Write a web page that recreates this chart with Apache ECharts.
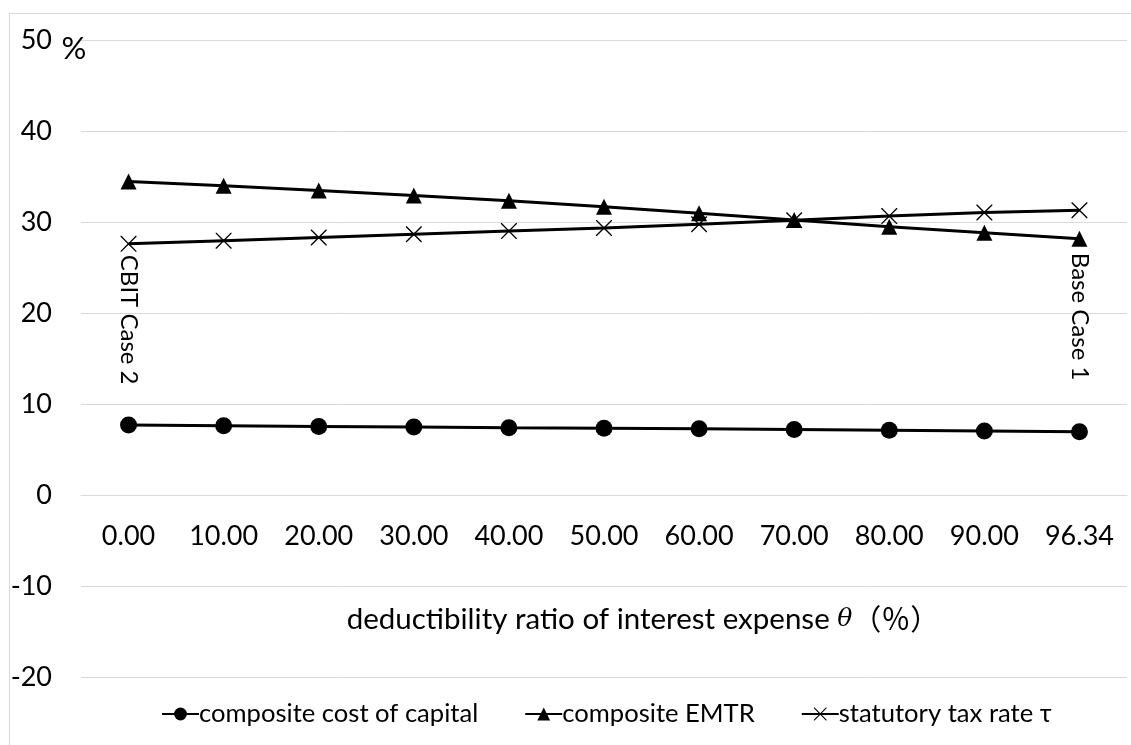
<!DOCTYPE html>
<html>
<head>
<meta charset="utf-8">
<script src="https://cdn.jsdelivr.net/npm/echarts@6/dist/echarts.min.js"></script>
<style>
  html, body { margin: 0; padding: 0; background: #fff; }
  #frame {
    position: absolute; left: 9px; top: 13px; width: 1140px; height: 760px;
    border: 1px solid #d9d9d9; box-sizing: border-box;
  }
  #chart { position: absolute; left: 0; top: 0; width: 1131px; height: 745px; }
</style>
</head>
<body>
<div id="frame"></div>
<div id="chart"></div>
<script>
// deductibility ratio of interest expense (θ, %)
const categories = ['0.00', '10.00', '20.00', '30.00', '40.00', '50.00', '60.00', '70.00', '80.00', '90.00', '96.34'];

// composite cost of capital (%)
const costOfCapital = [7.68, 7.60, 7.53, 7.47, 7.40, 7.34, 7.27, 7.20, 7.12, 7.04, 6.96];
// composite EMTR (%)
const emtr = [34.45, 33.98, 33.45, 32.92, 32.34, 31.68, 30.96, 30.22, 29.48, 28.82, 28.15];
// statutory tax rate τ (%)
const taxRate = [27.6, 27.95, 28.3, 28.65, 29.0, 29.35, 29.75, 30.2, 30.65, 31.05, 31.3];

const yTicks = { min: -20, max: 50, interval: 10 };

const FONT = 'Lato, "Noto Sans", sans-serif';
const CJK = '"Noto Sans CJK JP", "Noto Sans CJK SC", sans-serif';

const GRID_TOP = 40;
const GRID_BOTTOM = 68;
const PLOT_H = 745 - GRID_TOP - GRID_BOTTOM;
// lift the category axis up to the y = 0 line
const zeroOffset = -PLOT_H * (0 - yTicks.min) / (yTicks.max - yTicks.min);

// thin X marker
const crossPath = 'path://M0,0 L1.2,0 L10,8.8 L18.8,0 L20,0 L20,1.2 L11.2,10 L20,18.8 L20,20 L18.8,20 L10,11.2 L1.2,20 L0,20 L0,18.8 L8.8,10 L0,1.2 Z';

const sideLabel = (text, distance) => ({
  show: true,
  position: 'bottom',
  distance: distance,
  rotate: -90,
  align: 'left',
  verticalAlign: 'middle',
  formatter: text,
  color: '#000',
  fontFamily: FONT,
  fontSize: 24
});

const chart = echarts.init(document.getElementById('chart'));

const option = {
  animation: false,
  textStyle: { fontFamily: FONT, color: '#000' },
  grid: { left: 81, right: 4, top: GRID_TOP, bottom: GRID_BOTTOM, containLabel: false, outerBoundsMode: 'none' },
  legend: {
    left: 156,
    top: 696,
    itemWidth: 37,
    itemHeight: 16,
    itemGap: 46,
    textStyle: { fontFamily: FONT, fontSize: 25.6, color: '#000', padding: [0, 0, 0, -5] },
    data: ['composite cost of capital', 'composite EMTR', 'statutory tax rate τ']
  },
  xAxis: {
    type: 'category',
    data: categories,
    boundaryGap: true,
    position: 'bottom',
    offset: zeroOffset,
    axisLine: { show: true, onZero: false, lineStyle: { color: '#d9d9d9', width: 1 } },
    axisTick: { show: false },
    axisLabel: { fontFamily: FONT, fontSize: 27, color: '#000', margin: 28 },
    name: 'deductibility ratio of interest expense {i|θ}{p|（％）}',
    nameLocation: 'middle',
    nameGap: 109,
    nameTextStyle: {
      fontFamily: FONT, fontSize: 29.5, color: '#000',
      padding: [0, 0, 0, 78],
      rich: {
        i: { fontFamily: '"DejaVu Serif", serif', fontStyle: 'italic', fontSize: 25 },
        p: { fontFamily: CJK, fontSize: 29 }
      }
    }
  },
  yAxis: {
    type: 'value',
    min: yTicks.min,
    max: yTicks.max,
    interval: yTicks.interval,
    axisLine: { show: false },
    axisTick: { show: false },
    axisLabel: { fontFamily: FONT, fontSize: 27, color: '#000', margin: 29 },
    splitLine: { lineStyle: { color: '#d9d9d9', width: 1 } },
    name: '%',
    nameLocation: 'end',
    nameGap: -9,
    nameTextStyle: {
      fontFamily: FONT, fontSize: 31, color: '#000',
      align: 'center', verticalAlign: 'middle', padding: [0, 14, 0, 0]
    }
  },
  series: [
    {
      name: 'composite cost of capital',
      type: 'line',
      data: costOfCapital,
      symbol: 'circle',
      symbolSize: 17,
      itemStyle: { color: '#000' },
      lineStyle: { color: '#000', width: 3 }
    },
    {
      name: 'composite EMTR',
      type: 'line',
      data: emtr.map((v, i) => i === emtr.length - 1
        ? { value: v, label: sideLabel('Base Case 1', 6) }
        : v),
      symbol: 'triangle',
      symbolSize: 16,
      itemStyle: { color: '#000' },
      lineStyle: { color: '#000', width: 3 }
    },
    {
      name: 'statutory tax rate τ',
      type: 'line',
      data: taxRate.map((v, i) => i === 0
        ? { value: v, label: sideLabel('CBIT Case 2', 3) }
        : v),
      symbol: crossPath,
      symbolSize: 16,
      itemStyle: { color: '#000' },
      lineStyle: { color: '#000', width: 3 }
    }
  ]
};

chart.setOption(option);
</script>
</body>
</html>
